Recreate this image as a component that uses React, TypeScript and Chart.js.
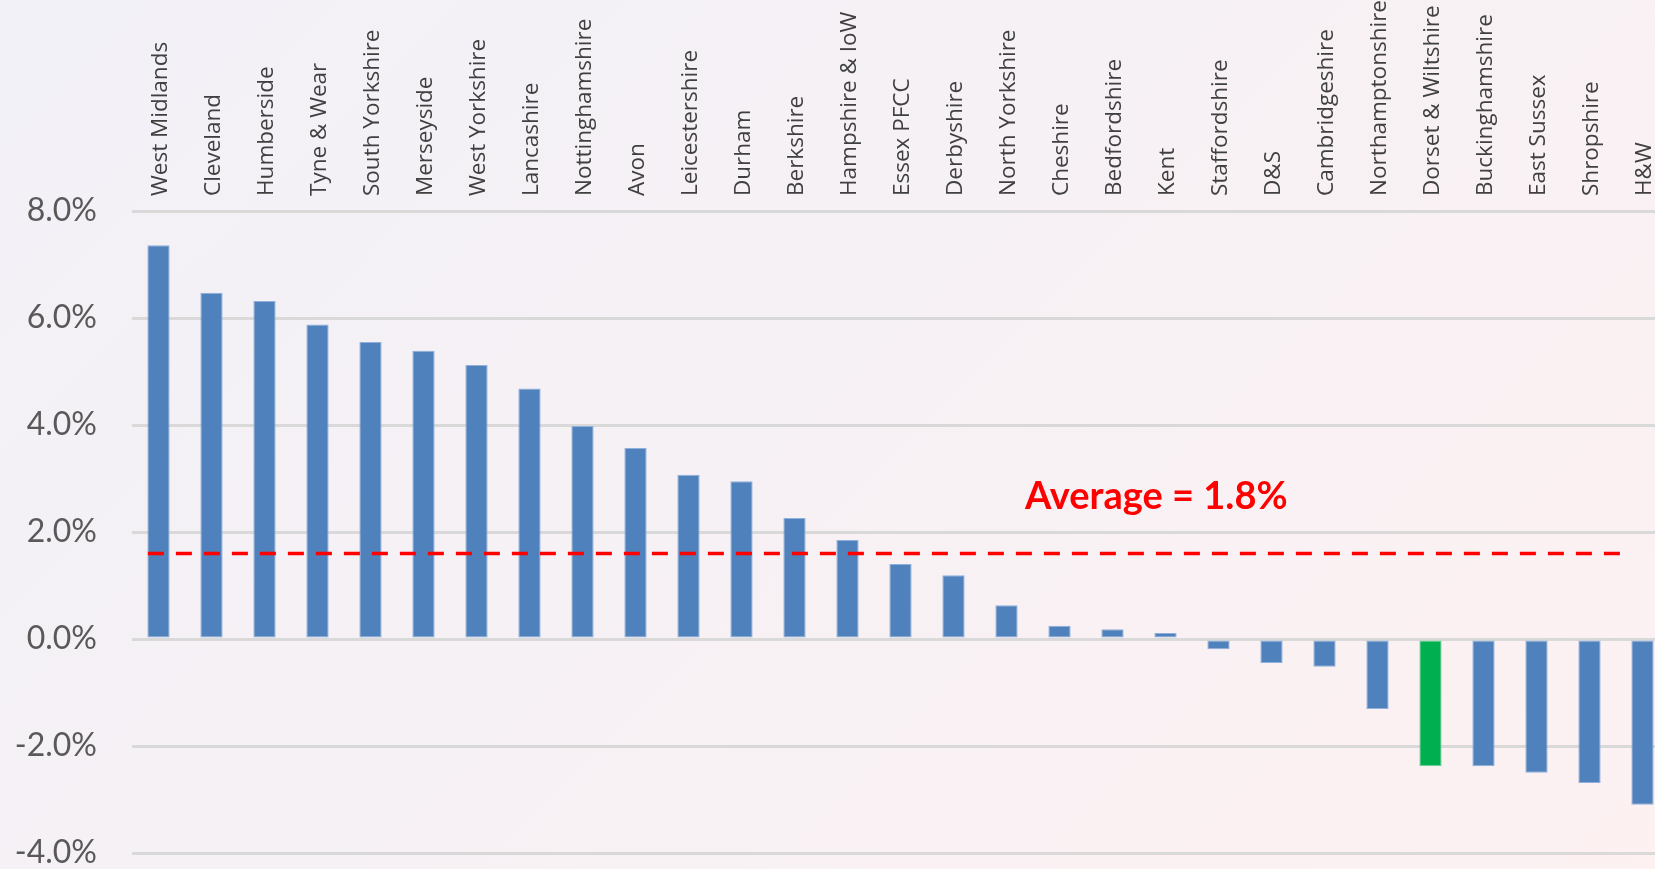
import React, { useEffect, useRef } from "react";
import { Chart, ChartConfiguration, Plugin, registerables } from "chart.js";

Chart.register(...registerables);

// police force areas, in the order shown
const forces = [
  "West Midlands", "Cleveland", "Humberside", "Tyne & Wear", "South Yorkshire",
  "Merseyside", "West Yorkshire", "Lancashire", "Nottinghamshire", "Avon",
  "Leicestershire", "Durham", "Berkshire", "Hampshire & IoW", "Essex PFCC",
  "Derbyshire", "North Yorkshire", "Cheshire", "Bedfordshire", "Kent",
  "Staffordshire", "D&S", "Cambridgeshire", "Northamptonshire",
  "Dorset & Wiltshire", "Buckinghamshire", "East Sussex", "Shropshire", "H&W",
];

// percentage change per force
const changes = [
  7.36, 6.47, 6.32, 5.88, 5.55, 5.39, 5.12, 4.68, 3.98, 3.57,
  3.07, 2.95, 2.26, 1.85, 1.4, 1.19, 0.63, 0.25, 0.18, 0.11,
  -0.19, -0.45, -0.52, -1.31, -2.38, -2.38, -2.5, -2.69, -3.1,
];

const highlighted = "Dorset & Wiltshire";

// y axis ticks
const yMin = -4;
const yMax = 8;
const yStep = 2;

// the dashed average line and its label
const averageValue = 1.6;
const averageFrom = -0.2; // category index
const averageTo = 27.6;
const averageLabel = "Average = 1.8%";
const averageLabelAt = { index: 16.35, value: 2.65 };

const blue = "#4f81bd";
const green = "#00b050";

const averagePlugin: Plugin = {
  id: "averageLine",
  afterDatasetsDraw(chart) {
    const { ctx, scales } = chart;
    const x = scales.x;
    const y = scales.y;
    const py = y.getPixelForValue(averageValue);
    ctx.save();
    ctx.strokeStyle = "#ff0000";
    ctx.lineWidth = 3.5;
    ctx.setLineDash([16, 12]);
    ctx.beginPath();
    ctx.moveTo(x.getPixelForValue(averageFrom), py);
    ctx.lineTo(x.getPixelForValue(averageTo), py);
    ctx.stroke();
    ctx.setLineDash([]);
    ctx.fillStyle = "#ff0000";
    ctx.font = "bold 38px Lato";
    ctx.textAlign = "left";
    ctx.textBaseline = "middle";
    ctx.fillText(averageLabel,
      x.getPixelForValue(averageLabelAt.index),
      y.getPixelForValue(averageLabelAt.value));
    ctx.restore();
  },
};

function configOf(): ChartConfiguration {
  const colors = forces.map(f => f === highlighted ? green : blue);
  const borders = forces.map(f => f === highlighted ? "#6fd39a" : "#8fb0da");
  return {
    type: "bar",
    data: {
      labels: forces,
      datasets: [{
        data: changes,
        backgroundColor: colors,
        borderColor: borders,
        borderWidth: 1,
        borderSkipped: false,
        categoryPercentage: 1,
        barPercentage: 0.42,
      }],
    },
    options: {
      responsive: false,
      animation: false,
      devicePixelRatio: 1,
      layout: { padding: { top: 0, right: 21, bottom: 0, left: 0 } },
      scales: {
        x: {
          position: "top",
          grid: { display: false, drawTicks: false },
          border: { display: false },
          afterFit: (axis) => { axis.height = 211; },
          ticks: {
            autoSkip: false,
            minRotation: 90,
            maxRotation: 90,
            padding: 15,
            labelOffset: 29,
            color: "#404040",
            font: { family: "'Open Sans'", size: 22.5 },
          },
        },
        y: {
          min: yMin,
          max: yMax,
          afterFit: (axis) => { axis.width = 132; },
          grid: {
            color: "#d9d9d9", lineWidth: 3,
            drawTicks: true, tickLength: 35, tickColor: "rgba(0,0,0,0)",
          },
          border: { display: false },
          ticks: {
            stepSize: yStep,
            padding: 0,
            color: "#595959",
            font: { family: "Lato", size: 32, lineHeight: 1 },
            callback: (v) => `${Number(v).toFixed(1)}%`,
          },
        },
      },
      plugins: {
        legend: { display: false },
        tooltip: { enabled: false },
      },
    },
    plugins: [averagePlugin],
  };
}

const ChangeChart = () => {
  const canvas = useRef<HTMLCanvasElement>(null);
  useEffect(() => {
    const context2d = canvas.current?.getContext("2d");
    const chart = context2d ? new Chart(context2d, configOf()) : null;
    return () => chart?.destroy();
  });
  return <canvas ref={canvas} width="1690" height="869" />;
};

export default function App() {
  return (
    <div style={{
      position: "absolute", left: 0, top: 0, width: 1655, height: 869,
      overflow: "hidden",
      background: "linear-gradient(135deg, #f2f1f7 0%, #f6f1f5 45%, #fdf1f2 100%)",
    }}>
      <ChangeChart />
    </div>
  );
}
